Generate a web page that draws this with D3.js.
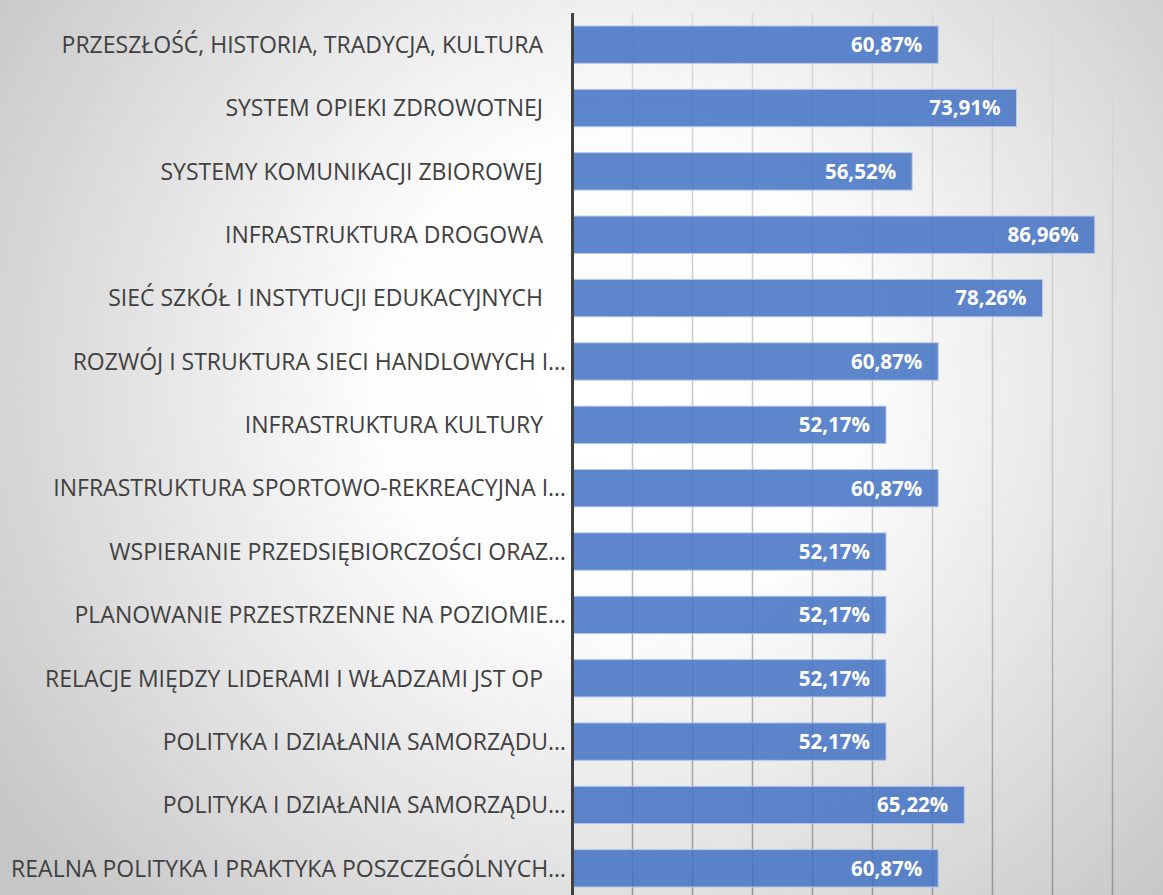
<!DOCTYPE html>
<html>
<head>
<meta charset="utf-8">
<script src="https://cdn.jsdelivr.net/npm/d3@7"></script>
<style>
  html, body { margin: 0; padding: 0; background: #fff; }
  svg { display: block; }
  .cat { font-family: "Open Sans", sans-serif; font-size: 23px; fill: #404040; white-space: pre; }
  .val { font-family: "Open Sans", sans-serif; font-size: 20.5px; font-weight: 700; fill: #fff; }
</style>
</head>
<body>
<div id="chart"></div>
<script>
// categories, top to bottom (\u2003 = trailing space kept by the original labels)
const categories = [
  "PRZESZŁOŚĆ, HISTORIA, TRADYCJA, KULTURA\u2003",
  "SYSTEM OPIEKI ZDROWOTNEJ\u2003",
  "SYSTEMY KOMUNIKACJI ZBIOROWEJ\u2003",
  "INFRASTRUKTURA DROGOWA\u2003",
  "SIEĆ SZKÓŁ I INSTYTUCJI EDUKACYJNYCH\u2003",
  "ROZWÓJ I STRUKTURA SIECI HANDLOWYCH I…",
  "INFRASTRUKTURA KULTURY\u2003",
  "INFRASTRUKTURA SPORTOWO-REKREACYJNA I…",
  "WSPIERANIE PRZEDSIĘBIORCZOŚCI ORAZ…",
  "PLANOWANIE PRZESTRZENNE NA POZIOMIE…",
  "RELACJE MIĘDZY LIDERAMI I WŁADZAMI JST OP\u2003",
  "POLITYKA I DZIAŁANIA SAMORZĄDU…",
  "POLITYKA I DZIAŁANIA SAMORZĄDU…",
  "REALNA POLITYKA I PRAKTYKA POSZCZEGÓLNYCH…"
];

const values = [0.6087, 0.7391, 0.5652, 0.8696, 0.7826, 0.6087, 0.5217,
                0.6087, 0.5217, 0.5217, 0.5217, 0.5217, 0.6522, 0.6087];

const gridTicks = [0.1, 0.2, 0.3, 0.4, 0.5, 0.6, 0.7, 0.8, 0.9, 1.0];

const width = 1163, height = 895;
const margin = {top: 13, left: 573, right: -10, bottom: -5};

// two categories share the same (truncated) text, so the band scale runs on row index
const rows = d3.range(categories.length);

const x = d3.scaleLinear([0, 1], [margin.left, width - margin.right]);
const y = d3.scaleBand(rows, [margin.top, height - margin.bottom])
    .paddingInner(0.41)
    .paddingOuter(0.205);

const fmt = v => (v * 100).toFixed(2).replace(".", ",") + "%";

const svg = d3.select("#chart").append("svg")
    .attr("width", width)
    .attr("height", height);

const defs = svg.append("defs");

const bg = defs.append("radialGradient")
    .attr("id", "bg")
    .attr("gradientUnits", "userSpaceOnUse")
    .attr("cx", 620).attr("cy", 380).attr("r", 760);
bg.append("stop").attr("offset", 0).attr("stop-color", "#ffffff");
bg.append("stop").attr("offset", 0.32).attr("stop-color", "#fdfdfd");
bg.append("stop").attr("offset", 1).attr("stop-color", "#c6c6c6");

const gl = defs.append("linearGradient")
    .attr("id", "gridGrad")
    .attr("gradientUnits", "userSpaceOnUse")
    .attr("x1", 0).attr("y1", margin.top).attr("x2", 0).attr("y2", height);
gl.append("stop").attr("offset", 0).attr("stop-color", "#dadada");
gl.append("stop").attr("offset", 0.55).attr("stop-color", "#c4c4c4");
gl.append("stop").attr("offset", 1).attr("stop-color", "#959595");

svg.append("rect")
    .attr("width", width)
    .attr("height", height)
    .attr("fill", "url(#bg)");

// grid
svg.append("g")
  .selectAll("line")
  .data(gridTicks)
  .join("line")
    .attr("x1", d => Math.round(x(d)) - 0.5)
    .attr("x2", d => Math.round(x(d)) - 0.5)
    .attr("y1", margin.top)
    .attr("y2", height)
    .attr("stroke", "url(#gridGrad)")
    .attr("stroke-width", 1.5);

// bars
svg.append("g")
  .selectAll("rect")
  .data(values)
  .join("rect")
    .attr("x", x(0))
    .attr("y", (d, i) => y(i))
    .attr("width", d => x(d) - x(0))
    .attr("height", y.bandwidth())
    .attr("fill", "#4472c4")
    .attr("fill-opacity", 0.86)
    .attr("stroke", "#b8c9e8")
    .attr("stroke-width", 1);

// value labels
svg.append("g")
  .selectAll("text")
  .data(values)
  .join("text")
    .attr("class", "val")
    .attr("x", d => x(d) - 16)
    .attr("y", (d, i) => y(i) + y.bandwidth() / 2)
    .attr("dy", "0.36em")
    .attr("text-anchor", "end")
    .text(fmt);

// axis line
svg.append("line")
    .attr("x1", x(0) - 0.5)
    .attr("x2", x(0) - 0.5)
    .attr("y1", margin.top)
    .attr("y2", height)
    .attr("stroke", "#404040")
    .attr("stroke-width", 3);

// category labels
svg.append("g")
  .selectAll("text")
  .data(categories)
  .join("text")
    .attr("class", "cat")
    .attr("x", x(0) - 7)
    .attr("y", (d, i) => y(i) + y.bandwidth() / 2)
    .attr("dy", "0.36em")
    .attr("text-anchor", "end")
    .text(d => d);
</script>
</body>
</html>
